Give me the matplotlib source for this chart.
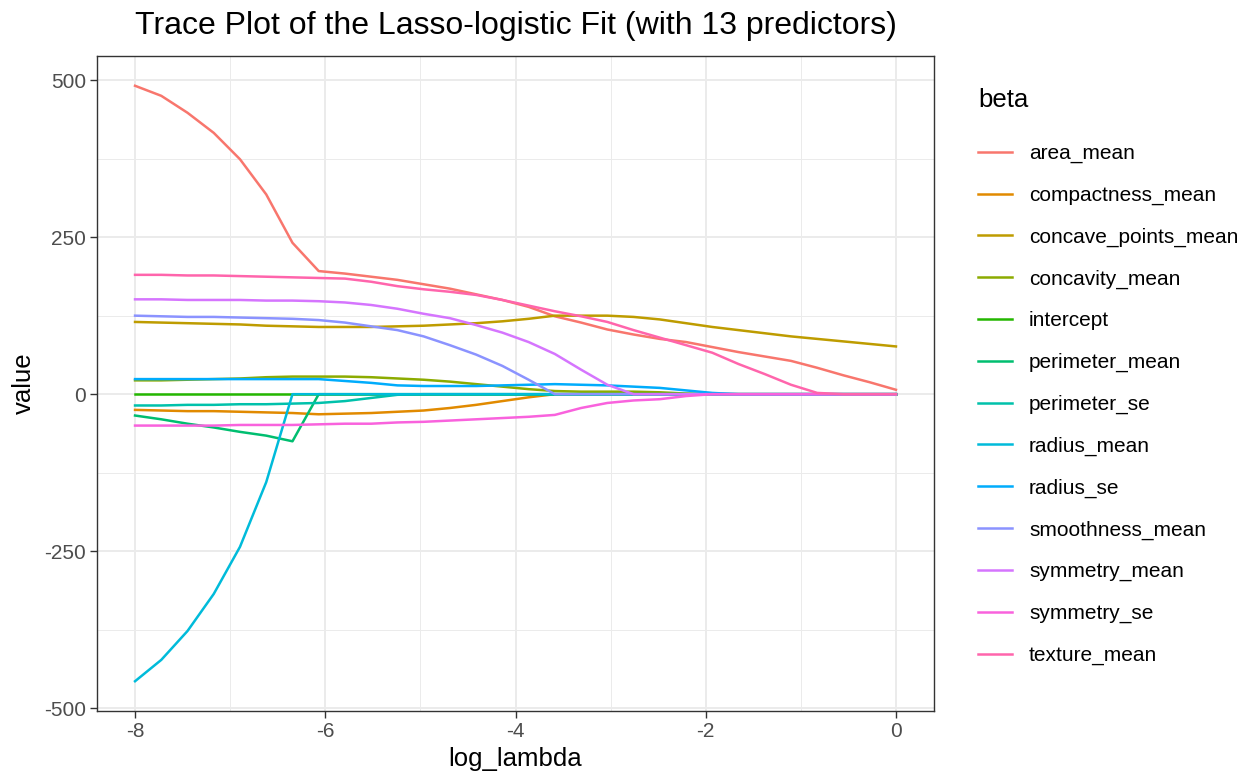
import numpy as np
import matplotlib
matplotlib.use('Agg')
import matplotlib.pyplot as plt

plt.rcParams['font.family'] = ['Liberation Sans', 'DejaVu Sans']
plt.rcParams['axes.unicode_minus'] = False

# lambda path (30 values of log lambda, -8 .. 0)
log_lambda = np.linspace(-8, 0, 30)

area_mean = [491, 475, 448, 416, 374, 318, 241, 196, 192, 187, 182, 175, 168, 159, 150,
             139, 124, 114, 103, 95, 88, 83, 75, 67, 60, 53, 42, 30, 19, 7]
compactness_mean = [-25, -26, -27, -27, -28, -29, -30, -32, -31, -30, -28, -26, -22, -17, -11,
                    -5, 0, 0, 0, 0, 0, 0, 0, 0, 0, 0, 0, 0, 0, 0]
concave_points_mean = [115, 114, 113, 112, 111, 109, 108, 107, 107, 107, 108, 109, 111, 113, 116,
                       120, 125, 125, 125, 123, 119, 113, 107, 102, 97, 92, 88, 84, 80, 76]
concavity_mean = [22, 22, 23, 24, 25, 27, 28, 28, 28, 27, 25, 23, 20, 16, 12,
                  8, 5, 4, 4, 4, 3, 1, 0, 0, 0, 0, 0, 0, 0, 0]
intercept = [0] * 30
perimeter_mean = [-34, -40, -47, -53, -60, -66, -75, 0, 0, 0, 0, 0, 0, 0, 0,
                  0, 0, 0, 0, 0, 0, 0, 0, 0, 0, 0, 0, 0, 0, 0]
perimeter_se = [-18, -18, -17, -17, -16, -16, -15, -14, -11, -6, -1, 0, 0, 0, 0,
                0, 0, 0, 0, 0, 0, 0, 0, 0, 0, 0, 0, 0, 0, 0]
radius_mean = [-457, -423, -377, -318, -243, -140, 0, 0, 0, 0, 0, 0, 0, 0, 0,
               0, 0, 0, 0, 0, 0, 0, 0, 0, 0, 0, 0, 0, 0, 0]
radius_se = [24, 24, 24, 24, 24, 24, 24, 24, 21, 18, 14, 13, 13, 13, 14,
             15, 16, 15, 14, 12, 10, 6, 2, 0, 0, 0, 0, 0, 0, 0]
smoothness_mean = [125, 124, 123, 123, 122, 121, 120, 118, 114, 108, 102, 92, 78, 63, 45,
                   23, 0, 0, 0, 0, 0, 0, 0, 0, 0, 0, 0, 0, 0, 0]
symmetry_mean = [151, 151, 150, 150, 150, 149, 149, 148, 146, 142, 136, 128, 121, 110, 98,
                 83, 64, 39, 15, 0, 0, 0, 0, 0, 0, 0, 0, 0, 0, 0]
symmetry_se = [-50, -50, -50, -50, -49, -49, -49, -48, -47, -47, -45, -44, -42, -40, -38,
               -36, -33, -22, -14, -10, -8, -3, 0, 0, 0, 0, 0, 0, 0, 0]
texture_mean = [190, 190, 189, 189, 188, 187, 186, 185, 184, 179, 172, 167, 163, 158, 150,
                141, 132, 124, 115, 102, 90, 78, 66, 48, 32, 15, 2, 0, 0, 0]

names = ['area_mean', 'compactness_mean', 'concave_points_mean', 'concavity_mean',
         'intercept', 'perimeter_mean', 'perimeter_se', 'radius_mean', 'radius_se',
         'smoothness_mean', 'symmetry_mean', 'symmetry_se', 'texture_mean']
series = [area_mean, compactness_mean, concave_points_mean, concavity_mean,
          intercept, perimeter_mean, perimeter_se, radius_mean, radius_se,
          smoothness_mean, symmetry_mean, symmetry_se, texture_mean]
colors = ['#F8766D', '#E18A00', '#BE9C00', '#8CAB00', '#24B700', '#00BE70', '#00C1AB',
          '#00BBDA', '#00ACFC', '#8B93FF', '#D575FE', '#F962DD', '#FF65AC']

W, H = 1254, 777
fig = plt.figure(figsize=(W / 100, H / 100), dpi=100)
ax = fig.add_axes([97 / W, 1 - 711 / H, (934 - 97) / W, (711 - 56) / H])

for name, vals, col in zip(names, series, colors):
    ax.plot(log_lambda, vals, color=col, lw=1.8, label=name)

# ggplot-style 5% expansion
allv = np.concatenate([np.asarray(s, float) for s in series])
yr = allv.max() - allv.min()
ax.set_ylim(allv.min() - 0.05 * yr, allv.max() + 0.05 * yr)
ax.set_xlim(-8.4, 0.4)

ax.set_xticks([-8, -6, -4, -2, 0])
ax.set_xticks([-7, -5, -3, -1], minor=True)
ax.set_yticks([-500, -250, 0, 250, 500])
ax.set_yticks([-375, -125, 125, 375], minor=True)
ax.grid(which='major', color='#EBEBEB', lw=1.4)
ax.grid(which='minor', color='#EBEBEB', lw=0.7)
ax.set_axisbelow(True)
ax.tick_params(which='major', length=5, width=1, color='#333333',
               labelcolor='#4D4D4D', labelsize=15, pad=3)
ax.tick_params(which='minor', length=0)
for sp in ax.spines.values():
    sp.set_color('#333333')
    sp.set_linewidth(1.0)

ax.set_title('Trace Plot of the Lasso-logistic Fit (with 13 predictors)', fontsize=23, pad=16)
ax.set_xlabel('log_lambda', fontsize=18.5, labelpad=4)
ax.set_ylabel('value', fontsize=18.5, labelpad=6)

leg = ax.legend(loc='upper left', bbox_to_anchor=(978 / W, 1 - 88 / H),
                bbox_transform=fig.transFigure, frameon=False, title='beta',
                fontsize=15, title_fontsize=18.5, handlelength=1.65,
                handletextpad=0.8, labelspacing=1.085, borderpad=0, borderaxespad=0)
leg._legend_box.align = 'left'
leg._legend_box.sep = 23

plt.savefig('out.png', dpi=100)
